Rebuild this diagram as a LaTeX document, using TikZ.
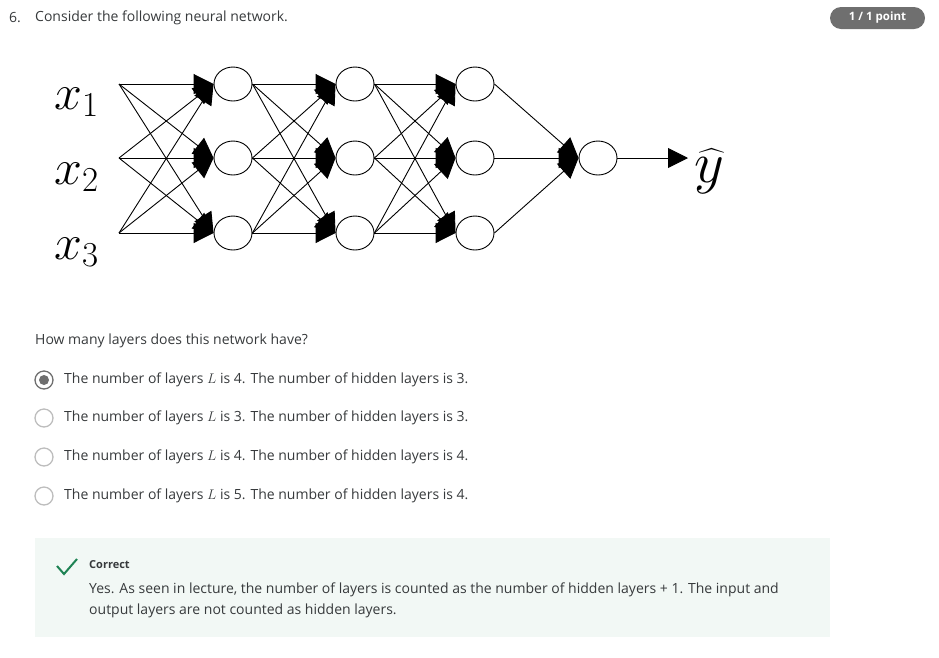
\documentclass[tikz,border=0pt]{standalone}
\usepackage{fix-cm}
\usepackage{amsmath}
\usepackage{fontspec}
\setmainfont{Open Sans}
\usetikzlibrary{arrows.meta, positioning, shapes.geometric}

\definecolor{txtgray}{HTML}{373A3C}
\definecolor{badgegray}{HTML}{6F6F6F}
\definecolor{ringgray}{HTML}{BDBDBD}
\definecolor{boxgreen}{HTML}{F2F8F5}
\definecolor{checkgreen}{HTML}{1F8354}

\tikzset{
    unit/.style={draw, ellipse, minimum width=38pt, minimum height=34pt, inner sep=0pt, line width=0.9pt},
    feed/.style={line width=0.9pt, -{Triangle[length=20pt, width=20pt]}},
    body/.style={text=txtgray, font=\fontsize{14}{17}\selectfont, anchor=west, inner sep=0pt},
    radio/.style={circle, draw=ringgray, line width=1.3pt, minimum size=18pt, inner sep=0pt},
    big/.style={font=\fontsize{50}{50}\selectfont, inner sep=0pt, anchor=base west}
}

\begin{document}
\begin{tikzpicture}[x=1pt, y=-1pt]
    \useasboundingbox (0,0) rectangle (939,657);

    % header
    \node [body] (num) at (9,18) {6.};
    \node [body] (question) at (35,18) {Consider the following neural network.};
    \node [fill=badgegray, rounded corners=11pt, minimum width=95pt, minimum height=22pt,
        text=white, font=\fontsize{11.5}{13}\selectfont\bfseries] (badge) at (877.5,18) {1 / 1 point};

    % inputs
    \coordinate (in1) at (119,84);
    \coordinate (in2) at (119,158);
    \coordinate (in3) at (119,233);
    \node [big] (x1) at (54,109) {$x_1$};
    \node [big] (x2) at (54,184) {$x_2$};
    \node [big] (x3) at (54,259) {$x_3$};

    % hidden layers
    \foreach \l/\xx in {1/233, 2/355, 3/475}
        \foreach \i/\yy in {1/84, 2/158, 3/233}
            \node [unit] (h\l\i) at (\xx,\yy) {};
    \node [unit] (out) at (598,158) {};
    \coordinate (yend) at (688,158);
    \node [big, font=\fontsize{58}{58}\selectfont] (yhat) at (694,182) {$\widehat{y}$};

    % connections
    \foreach \i in {1,2,3}
        \foreach \j in {1,2,3} {
            \draw [feed] (in\i) -- (h1\j.west);
            \draw [feed] (h1\i.east) -- (h2\j.west);
            \draw [feed] (h2\i.east) -- (h3\j.west);
        }
    \foreach \i in {1,2,3}
        \draw [feed] (h3\i.east) -- (out.west);
    \draw [feed] (out.east) -- (yend);

    % question and options
    \node [body] (ask) at (35,341) {How many layers does this network have?};
    \node [radio, draw=badgegray, fill=white] (r1) at (44,380) {};
    \fill [badgegray] (r1) circle (5pt);
    \node [radio] (r2) at (44,418) {};
    \node [radio] (r3) at (44,457) {};
    \node [radio] (r4) at (44,496) {};
    \node [body] (o1) at (64,380) {The number of layers $L$ is 4. The number of hidden layers is 3.};
    \node [body] (o2) at (64,418) {The number of layers $L$ is 3. The number of hidden layers is 3.};
    \node [body] (o3) at (64,457) {The number of layers $L$ is 4. The number of hidden layers is 4.};
    \node [body] (o4) at (64,496) {The number of layers $L$ is 5. The number of hidden layers is 4.};

    % feedback
    \fill [boxgreen] (35,538) rectangle (830,637);
    \draw [checkgreen, line width=2pt] (57,566) -- (64,574) -- (77,559);
    \node [body, font=\fontsize{11}{13}\selectfont\bfseries] (correct) at (89,565) {Correct};
    \node [body] (expl1) at (89,590) {Yes. As seen in lecture, the number of layers is counted as the number of hidden layers + 1. The input and};
    \node [body] (expl2) at (89,611) {output layers are not counted as hidden layers.};
\end{tikzpicture}
\end{document}
